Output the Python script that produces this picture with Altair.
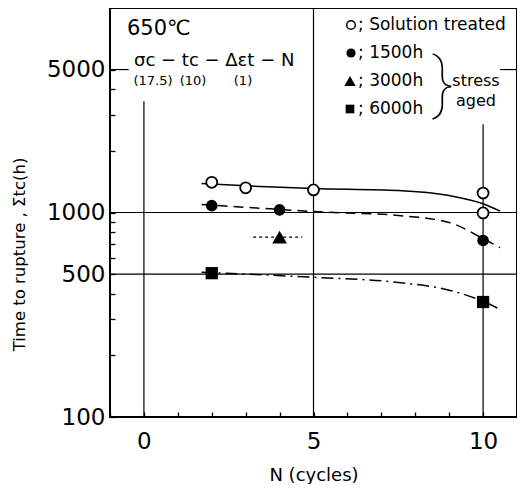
import altair as alt
import pandas as pd

# ---- data ----
sol_n = [2, 3, 5, 10, 10]
sol_t = [1405, 1320, 1290, 1245, 995]
a1500_n = [2, 4, 10]
a1500_t = [1080, 1030, 730]
a3000_n = [4]
a3000_t = [758]
a6000_n = [2, 10]
a6000_t = [505, 365]

sol_curve_n = [1.7, 3, 5, 7.5, 9, 10, 10.5]
sol_curve_t = [1385, 1350, 1310, 1280, 1210, 1103, 1015]
a1500_curve_n = [1.7, 4, 5, 7.5, 9, 10, 10.5]
a1500_curve_t = [1094, 1035, 1010, 967, 894, 745, 673]
a3000_curve_n = [3.22, 4.67]
a3000_curve_t = [758, 758]
a6000_curve_n = [1.7, 5, 7.5, 9, 10, 10.5]
a6000_curve_t = [510, 482, 455, 417, 368, 336]

x_tick_vals = list(range(-1, 12))
x_label_vals = [0, 5, 10]
y_tick_vals = [100, 200, 300, 400, 500, 600, 700, 800, 900, 1000, 2000, 3000, 4000, 5000]
y_label_vals = [100, 500, 1000, 5000]

FONT = "DejaVu Sans"

xs = alt.Scale(domain=[-1, 11], nice=False, zero=False)
ys = alt.Scale(type="log", domain=[100, 10000], nice=False)

x_axis = alt.Axis(
    values=x_tick_vals,
    labelExpr="indexof([0,5,10], datum.value) >= 0 ? datum.label : ''",
    labelOverlap=False, labelBound=False, labelFlush=False,
    grid=False, domain=False, offset=-5, tickSize=5, tickColor="black", tickWidth=1.3,
    labelPadding=13, labelFontSize=23, labelFont=FONT, labelColor="black",
    title="N (cycles)", titleFontSize=18, titleFont=FONT, titleFontWeight="normal",
    titleColor="black", titleY=63, titleBaseline="middle",
)
y_axis = alt.Axis(
    values=y_tick_vals, format="d",
    labelExpr="indexof([100,500,1000,5000], datum.value) >= 0 ? datum.label : ''",
    labelOverlap=False, labelBound=False, labelFlush=False,
    grid=False, domain=False, offset=-5, tickSize=5, tickColor="black", tickWidth=1.3,
    labelPadding=5, labelFontSize=23, labelFont=FONT, labelColor="black",
    title="Time to rupture , Σtc(h)", titleFontSize=16.5, titleFont=FONT,
    titleFontWeight="normal", titleColor="black", titleAngle=270,
    titleX=-96, titleY=246, titleBaseline="middle", titleAlign="center",
)

def X(field):
    return alt.X(field, type="quantitative", scale=xs, axis=x_axis)

def Y(field):
    return alt.Y(field, type="quantitative", scale=ys, axis=y_axis)

def pts(n, t):
    return pd.DataFrame({"n": n, "t": t})

# gridlines
vlines = pd.DataFrame({"n": [0, 5, 10], "lo": [100, 100, 100], "hi": [3500, 10000, 2700]})
hlines = pd.DataFrame({"t": [500, 1000, 5000, 5000], "lo": [-1, -1, -1, 10.5], "hi": [11, 11, -0.45, 11]})

vrule = alt.Chart(vlines).mark_rule(color="black", strokeWidth=1.2).encode(
    x=X("n"), y=Y("lo"), y2="hi:Q"
)
hrule = alt.Chart(hlines).mark_rule(color="black", strokeWidth=1.2).encode(
    y=Y("t"), x=X("lo"), x2="hi:Q"
)

def curve(n, t, dash=None, w=1.5):
    kw = dict(color="black", strokeWidth=w, interpolate="monotone")
    if dash:
        kw["strokeDash"] = dash
    return alt.Chart(pts(n, t)).mark_line(**kw).encode(x=X("n"), y=Y("t"))

c_sol = curve(sol_curve_n, sol_curve_t)
c_1500 = curve(a1500_curve_n, a1500_curve_t, [10, 6])
c_3000 = curve(a3000_curve_n, a3000_curve_t, [3, 3], 1.3)
c_6000 = curve(a6000_curve_n, a6000_curve_t, [12, 5, 2, 5])

def enc(c):
    return c.encode(x=X("n"), y=Y("t"))

p_sol = enc(alt.Chart(pts(sol_n, sol_t)).mark_point(
    shape="circle", fill="white", stroke="black", strokeWidth=1.8, size=120, opacity=1, fillOpacity=1))
p_1500 = enc(alt.Chart(pts(a1500_n, a1500_t)).mark_point(
    shape="circle", filled=True, color="black", size=135, opacity=1))
p_3000 = enc(alt.Chart(pts(a3000_n, a3000_t)).mark_point(
    shape="triangle-up", filled=True, color="black", size=220, opacity=1))
p_6000 = enc(alt.Chart(pts(a6000_n, a6000_t)).mark_point(
    shape="square", filled=True, color="black", size=150, opacity=1))

one = pd.DataFrame({"k": [0]})

def label(txt, x, y, size, align="left", weight="normal", font=FONT):
    return alt.Chart(one).mark_text(
        text=txt, fontSize=size, font=font, align=align, baseline="middle",
        color="black", fontWeight=weight
    ).encode(x=alt.value(x), y=alt.value(y))

def sym(shape, x, y, filled, size=85):
    if filled:
        m = alt.Chart(one).mark_point(shape=shape, filled=True, color="black", size=size, opacity=1)
    else:
        m = alt.Chart(one).mark_point(shape=shape, fill="white", stroke="black", strokeWidth=1.5,
                                      size=size, opacity=1)
    return m.encode(x=alt.value(x), y=alt.value(y))

annots = [
    label("650℃", 17, 21, 21),
    label("σc − tc − Δεt − N", 24, 53, 18),
    label("(17.5)", 43, 73, 13, "center"),
    label("(10)", 83, 73, 13, "center"),
    label("(1)", 133, 73, 13, "center"),
    sym("circle", 241, 17, False, 75),
    label("; Solution treated", 248, 17, 17),
    sym("circle", 241, 45, True),
    label("; 1500h", 248, 45, 17),
    sym("triangle-up", 240, 73, True, 130),
    label("; 3000h", 248, 73, 17),
    sym("square", 240, 101, True, 75),
    label("; 6000h", 248, 101, 17),
    label("}", 333, 77, 66, "center", 100, "Roboto"),
    label("stress", 366, 73, 16, "center"),
    label("aged", 366, 93, 16, "center"),
]

chart = alt.layer(
    vrule, hrule, c_sol, c_1500, c_3000, c_6000, p_sol, p_1500, p_3000, p_6000, *annots
).properties(
    width=407, height=409,
    background="white",
    autosize=alt.AutoSizeParams(type="none"),
    padding={"left": 102, "top": 0, "right": 0, "bottom": 67},
).configure_view(stroke="black", strokeWidth=2).configure_axis(labelOverlap=False)

chart.save("out.html", embed_options={"renderer": "svg", "actions": False})
